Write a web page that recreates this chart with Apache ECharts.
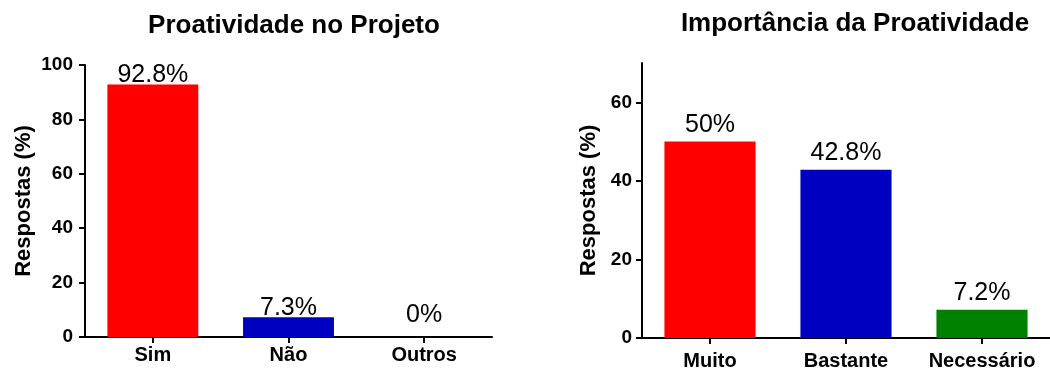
<!DOCTYPE html>
<html>
<head>
<meta charset="utf-8">
<script src="https://cdn.jsdelivr.net/npm/echarts@6/dist/echarts.min.js"></script>
<style>
  html, body { margin: 0; padding: 0; background: #fff; }
  #chart { width: 1050px; height: 371px; }
</style>
</head>
<body>
<div id="chart"></div>
<script>
// Panel 1: proactivity in the project
const titleLeft = 'Proatividade no Projeto';
const categoriesLeft = ['Sim', 'Não', 'Outros'];
const valuesLeft = [92.8, 7.3, 0];
const labelsLeft = ['92.8%', '7.3%', '0%'];
const yTicksLeft = [0, 20, 40, 60, 80, 100];

// Panel 2: importance of proactivity
const titleRight = 'Importância da Proatividade';
const categoriesRight = ['Muito', 'Bastante', 'Necessário'];
const valuesRight = [50, 42.8, 7.2];
const labelsRight = ['50%', '42.8%', '7.2%'];
const yTicksRight = [0, 20, 40, 60];

const yAxisName = 'Respostas (%)';
const barColors = ['#FF0000', '#0000C0', '#008000'];

const FONT = "'Liberation Sans', Arial, Helvetica, sans-serif";
const AXIS_LINE = { show: true, lineStyle: { color: '#000', width: 2 } };

function xAxisFor(gridIndex, cats, margin) {
  return {
    type: 'category', gridIndex, data: cats,
    axisLine: AXIS_LINE,
    axisTick: { show: true, alignWithLabel: true, length: 6, lineStyle: { color: '#000', width: 2 } },
    axisLabel: { margin, interval: 0, hideOverlap: false, color: '#000', fontFamily: FONT, fontWeight: 'bold', fontSize: 20 },
    splitLine: { show: false }
  };
}

function yAxisFor(gridIndex, max, ticks, margin, nameGap) {
  return {
    type: 'value', gridIndex, min: 0, max, interval: 20,
    name: yAxisName, nameLocation: 'middle', nameGap,
    nameTextStyle: { color: '#000', fontFamily: FONT, fontWeight: 'bold', fontSize: 22 },
    axisLine: AXIS_LINE,
    axisTick: { show: true, length: 6, customValues: ticks, lineStyle: { color: '#000', width: 2 } },
    axisLabel: { margin, customValues: ticks, color: '#000', fontFamily: FONT, fontWeight: 'bold', fontSize: 19 },
    splitLine: { show: false }
  };
}

function barData(values, labels, distances) {
  return values.map((v, i) => ({
    value: v,
    itemStyle: { color: barColors[i] },
    label: { formatter: labels[i], distance: distances[i] }
  }));
}

const option = {
  animation: false,
  backgroundColor: '#fff',
  title: [
    { text: titleLeft, left: 289, top: 8, textAlign: 'center',
      textStyle: { color: '#000', fontFamily: FONT, fontWeight: 'bold', fontSize: 26 } },
    { text: titleRight, left: 850, top: 6, textAlign: 'center',
      textStyle: { color: '#000', fontFamily: FONT, fontWeight: 'bold', fontSize: 26 } }
  ],
  grid: [
    { left: 85, top: 65, width: 407, height: 272 },
    { left: 642, top: 63, width: 415, height: 277 }
  ],
  xAxis: [xAxisFor(0, categoriesLeft, 8), xAxisFor(1, categoriesRight, 13)],
  yAxis: [yAxisFor(0, 100, yTicksLeft, 12, 50), yAxisFor(1, 70, yTicksRight, 10, 42)],
  series: [
    {
      type: 'bar', xAxisIndex: 0, yAxisIndex: 0, barWidth: '67%',
      data: barData(valuesLeft, labelsLeft, [-3, -3, 9]),
      label: { show: true, position: 'top', color: '#000', fontFamily: FONT, fontSize: 25 }
    },
    {
      type: 'bar', xAxisIndex: 1, yAxisIndex: 1, barWidth: '67%',
      data: barData(valuesRight, labelsRight, [4, 4, 4]),
      label: { show: true, position: 'top', color: '#000', fontFamily: FONT, fontSize: 25 }
    }
  ]
};

echarts.init(document.getElementById('chart'), null, { renderer: 'canvas' }).setOption(option);
</script>
</body>
</html>
